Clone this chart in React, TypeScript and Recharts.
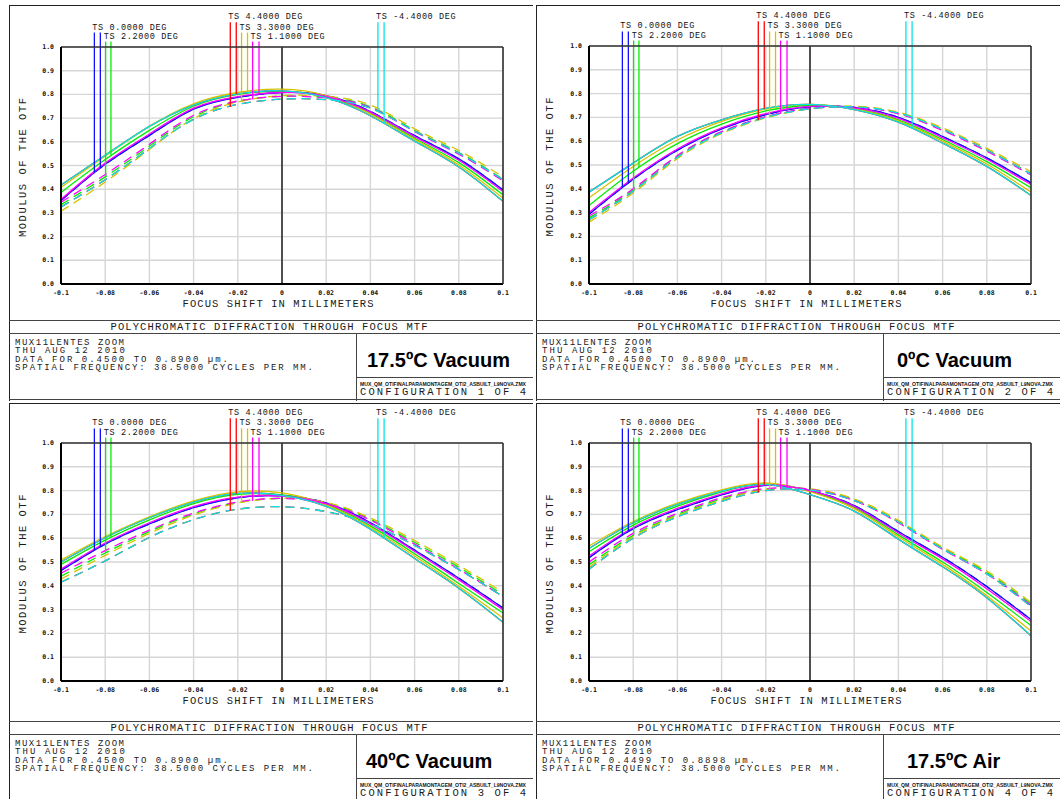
import React from "react";
import { CartesianGrid, Line, LineChart, ReferenceLine, XAxis, YAxis } from "recharts";

const focusShift = [-0.1, -0.08, -0.06, -0.04, -0.02, 0, 0.02, 0.04, 0.06, 0.08, 0.1];
const xTickLabels = ["-0.1", "-0.08", "-0.06", "-0.04", "-0.02", "0", "0.02", "0.04", "0.06", "0.08", "0.1"];
const yTicks = [0, 0.1, 0.2, 0.3, 0.4, 0.5, 0.6, 0.7, 0.8, 0.9, 1.0];
const yTickLabels = ["0.0", "0.1", "0.2", "0.3", "0.4", "0.5", "0.6", "0.7", "0.8", "0.9", "1.0"];

// field order as zemax draws it
const fieldNames = ["TS 0.0000 DEG", "TS 2.2000 DEG", "TS 4.4000 DEG", "TS 3.3000 DEG", "TS 1.1000 DEG", "TS -4.4000 DEG"];
const fieldColors = ["#1010ff", "#00ee00", "#ff0000", "#d4c400", "#ff00ff", "#00e6e6"];
// legend drop lines (two per field, in mm) and where they start (MTF units, above the frame)
const markerX = [
  [-0.0849, -0.0822],
  [-0.0798, -0.0774],
  [-0.0234, -0.0207],
  [-0.0183, -0.0156],
  [-0.0133, -0.0104],
  [0.0434, 0.0462],
];
const markerTop = [1.061, 1.023, 1.104, 1.061, 1.023, 1.104];

// ---- configuration 1 : 17.5C vacuum
const c1Blue = [0.352, 0.505, 0.627, 0.738, 0.788, 0.808, 0.795, 0.728, 0.626, 0.528, 0.397];
const c1GreenT = [0.386, 0.525, 0.648, 0.75, 0.8, 0.813, 0.79, 0.72, 0.615, 0.512, 0.376];
const c1GreenS = [0.335, 0.452, 0.582, 0.706, 0.77, 0.792, 0.787, 0.748, 0.648, 0.555, 0.442];
const c1YellowT = [0.408, 0.54, 0.665, 0.76, 0.808, 0.822, 0.795, 0.718, 0.61, 0.502, 0.362];
const c1YellowS = [0.307, 0.43, 0.568, 0.698, 0.768, 0.795, 0.792, 0.755, 0.655, 0.563, 0.452];
const c1MagentaT = [0.357, 0.51, 0.633, 0.742, 0.791, 0.808, 0.792, 0.725, 0.622, 0.522, 0.39];
const c1MagentaS = [0.345, 0.462, 0.59, 0.712, 0.772, 0.792, 0.785, 0.745, 0.643, 0.548, 0.435];
const c1CyanT = [0.418, 0.543, 0.665, 0.755, 0.802, 0.815, 0.786, 0.71, 0.603, 0.494, 0.349];
const c1CyanS = [0.325, 0.44, 0.572, 0.695, 0.758, 0.78, 0.778, 0.742, 0.645, 0.552, 0.44];

// ---- configuration 2 : 0C vacuum
const c2Blue = [0.293, 0.44, 0.562, 0.652, 0.712, 0.745, 0.742, 0.7, 0.62, 0.53, 0.425];
const c2GreenT = [0.33, 0.474, 0.59, 0.672, 0.727, 0.75, 0.737, 0.69, 0.607, 0.514, 0.404];
const c2GreenS = [0.278, 0.395, 0.536, 0.638, 0.702, 0.738, 0.745, 0.718, 0.65, 0.563, 0.463];
const c2YellowT = [0.362, 0.494, 0.605, 0.683, 0.735, 0.755, 0.736, 0.685, 0.6, 0.504, 0.386];
const c2YellowS = [0.26, 0.382, 0.527, 0.632, 0.698, 0.737, 0.747, 0.722, 0.656, 0.57, 0.472];
const c2MagentaT = [0.3, 0.445, 0.567, 0.656, 0.716, 0.746, 0.74, 0.696, 0.615, 0.524, 0.418];
const c2MagentaS = [0.286, 0.4, 0.54, 0.64, 0.703, 0.738, 0.744, 0.715, 0.645, 0.558, 0.458];
const c2CyanT = [0.386, 0.508, 0.62, 0.69, 0.738, 0.755, 0.733, 0.68, 0.592, 0.494, 0.372];
const c2CyanS = [0.27, 0.39, 0.532, 0.635, 0.7, 0.736, 0.744, 0.718, 0.65, 0.563, 0.462];

// ---- configuration 3 : 40C vacuum
const c3Blue = [0.464, 0.575, 0.66, 0.728, 0.77, 0.778, 0.748, 0.665, 0.55, 0.432, 0.307];
const c3GreenT = [0.49, 0.592, 0.677, 0.745, 0.784, 0.782, 0.742, 0.652, 0.535, 0.41, 0.286];
const c3GreenS = [0.44, 0.538, 0.628, 0.702, 0.75, 0.768, 0.748, 0.68, 0.582, 0.478, 0.362];
const c3YellowT = [0.508, 0.607, 0.69, 0.757, 0.795, 0.79, 0.74, 0.645, 0.525, 0.398, 0.265];
const c3YellowS = [0.428, 0.528, 0.62, 0.697, 0.748, 0.768, 0.75, 0.685, 0.59, 0.486, 0.372];
const c3MagentaT = [0.47, 0.58, 0.665, 0.733, 0.773, 0.777, 0.745, 0.66, 0.545, 0.425, 0.3];
const c3MagentaS = [0.453, 0.548, 0.634, 0.706, 0.752, 0.767, 0.745, 0.676, 0.575, 0.47, 0.355];
const c3CyanT = [0.5, 0.602, 0.686, 0.752, 0.788, 0.78, 0.734, 0.638, 0.515, 0.39, 0.247];
const c3CyanS = [0.415, 0.505, 0.603, 0.678, 0.722, 0.732, 0.712, 0.66, 0.57, 0.468, 0.355];

// ---- configuration 4 : 17.5C air
const c4Blue = [0.518, 0.64, 0.72, 0.782, 0.822, 0.8, 0.737, 0.628, 0.52, 0.397, 0.258];
const c4GreenT = [0.543, 0.655, 0.735, 0.795, 0.828, 0.798, 0.729, 0.614, 0.5, 0.372, 0.233];
const c4GreenS = [0.488, 0.612, 0.7, 0.765, 0.806, 0.806, 0.762, 0.67, 0.558, 0.456, 0.323];
const c4YellowT = [0.567, 0.67, 0.747, 0.803, 0.832, 0.796, 0.724, 0.606, 0.49, 0.358, 0.21];
const c4YellowS = [0.478, 0.606, 0.695, 0.76, 0.805, 0.807, 0.765, 0.675, 0.563, 0.462, 0.33];
const c4MagentaT = [0.525, 0.645, 0.725, 0.786, 0.824, 0.8, 0.734, 0.622, 0.513, 0.388, 0.25];
const c4MagentaS = [0.5, 0.62, 0.705, 0.77, 0.808, 0.805, 0.758, 0.665, 0.553, 0.45, 0.318];
const c4CyanT = [0.557, 0.665, 0.742, 0.798, 0.826, 0.783, 0.714, 0.596, 0.48, 0.35, 0.19];
const c4CyanS = [0.47, 0.6, 0.69, 0.755, 0.8, 0.802, 0.758, 0.668, 0.555, 0.45, 0.313];

type Curve = { t: number[]; s: number[] };

// on axis T == S; +4.4 and -4.4 deg are the same curves (red sits under cyan)
const config1: Curve[] = [
  { t: c1Blue, s: c1Blue },
  { t: c1GreenT, s: c1GreenS },
  { t: c1CyanT, s: c1CyanS },
  { t: c1YellowT, s: c1YellowS },
  { t: c1MagentaT, s: c1MagentaS },
  { t: c1CyanT, s: c1CyanS },
];
const config2: Curve[] = [
  { t: c2Blue, s: c2Blue },
  { t: c2GreenT, s: c2GreenS },
  { t: c2CyanT, s: c2CyanS },
  { t: c2YellowT, s: c2YellowS },
  { t: c2MagentaT, s: c2MagentaS },
  { t: c2CyanT, s: c2CyanS },
];
const config3: Curve[] = [
  { t: c3Blue, s: c3Blue },
  { t: c3GreenT, s: c3GreenS },
  { t: c3CyanT, s: c3CyanS },
  { t: c3YellowT, s: c3YellowS },
  { t: c3MagentaT, s: c3MagentaS },
  { t: c3CyanT, s: c3CyanS },
];
const config4: Curve[] = [
  { t: c4Blue, s: c4Blue },
  { t: c4GreenT, s: c4GreenS },
  { t: c4CyanT, s: c4CyanS },
  { t: c4YellowT, s: c4YellowS },
  { t: c4MagentaT, s: c4MagentaS },
  { t: c4CyanT, s: c4CyanS },
];

const panels = [
  { left: 6, top: 2, height: 399, topLine: 3, plotLeft: 55, plotTop: 45, plotBottom: 282, infoTop: 318, label: "17.5ºC Vacuum", labelX: 361, wave: "DATA FOR 0.4500 TO 0.8900 µm.", config: "CONFIGURATION 1 OF 4", curves: config1 },
  { left: 533, top: 2, height: 399, topLine: 3, plotLeft: 56, plotTop: 44, plotBottom: 282, infoTop: 318, label: "0ºC Vacuum", labelX: 364, wave: "DATA FOR 0.4500 TO 0.8900 µm.", config: "CONFIGURATION 2 OF 4", curves: config2 },
  { left: 6, top: 401, height: 398, topLine: 2, plotLeft: 55, plotTop: 42, plotBottom: 280, infoTop: 320, label: "40ºC Vacuum", labelX: 360, wave: "DATA FOR 0.4500 TO 0.8900 µm.", config: "CONFIGURATION 3 OF 4", curves: config3 },
  { left: 533, top: 401, height: 398, topLine: 2, plotLeft: 56, plotTop: 42, plotBottom: 280, infoTop: 320, label: "17.5ºC Air", labelX: 374, wave: "DATA FOR 0.4499 TO 0.8898 µm.", config: "CONFIGURATION 4 OF 4", curves: config4 },
];

const MONO = "'Liberation Mono', 'DejaVu Sans Mono', monospace";
const TICKFONT = "'DejaVu Sans Mono', monospace";

function valueAt(ys: number[], x: number) {
  for (let i = 0; i < focusShift.length - 1; i++) {
    const x0 = focusShift[i];
    const x1 = focusShift[i + 1];
    if (x >= x0 && x <= x1) return ys[i] + ((ys[i + 1] - ys[i]) * (x - x0)) / (x1 - x0);
  }
  return ys[ys.length - 1];
}

function buildRows(curves: Curve[]) {
  return focusShift.map((x, i) => {
    const row: Record<string, number> = { x };
    curves.forEach((c, f) => {
      row[`t${f}`] = c.t[i];
      row[`s${f}`] = c.s[i];
    });
    return row;
  });
}

const XTick = (props: any) => {
  const { x, y, payload } = props;
  const i = focusShift.findIndex((v) => Math.abs(v - payload.value) < 1e-9);
  return (
    <text x={x} y={y} textAnchor="middle" dominantBaseline="central" fontSize={6.5} fontWeight={700} fontFamily={TICKFONT} fill="#111">
      {xTickLabels[i]}
    </text>
  );
};

const YTick = (props: any) => {
  const { x, y, payload } = props;
  const i = yTicks.findIndex((v) => Math.abs(v - payload.value) < 1e-9);
  return (
    <text x={x} y={y} textAnchor="end" dominantBaseline="central" fontSize={6.5} fontWeight={700} fontFamily={TICKFONT} fill="#111">
      {yTickLabels[i]}
    </text>
  );
};

const MarkerLabel = (props: any) => {
  const vb = props.viewBox || { x: 0, y: 0 };
  return (
    <text x={vb.x - 2} y={vb.y - 3} fontSize={8.5} fontFamily={MONO} fill="#111" textLength={props.text.length * 5.7} lengthAdjust="spacing">
      {props.text}
    </text>
  );
};

function Panel({ p }: { p: (typeof panels)[number] }) {
  const rows = buildRows(p.curves);
  const plotH = p.plotBottom - p.plotTop;
  const W = 527;
  const it = p.infoTop;
  const txt = { fontFamily: MONO, fontSize: 10.5, fill: "#1a1a1a" } as const;
  const small = { fontFamily: MONO, fontSize: 9, fill: "#1a1a1a" } as const;
  return (
    <div style={{ position: "absolute", left: p.left, top: p.top, width: W, height: p.height, overflow: "hidden", background: "#fff" }}>
      <svg width={W} height={p.height} style={{ position: "absolute", left: 0, top: 0 }}>
        <line x1={3.5} y1={p.topLine} x2={3.5} y2={p.height} stroke="#222" />
        <line x1={3} y1={p.topLine + 0.5} x2={W} y2={p.topLine + 0.5} stroke="#222" />
        <line x1={3} y1={it + 0.5} x2={W} y2={it + 0.5} stroke="#444" />
        <line x1={3} y1={it + 13.5} x2={W} y2={it + 13.5} stroke="#444" />
        <line x1={350.5} y1={it + 13} x2={350.5} y2={p.height} stroke="#444" />
        <line x1={350} y1={it + 57.5} x2={W} y2={it + 57.5} stroke="#444" />
        <line x1={3} y1={it + 79.5} x2={W} y2={it + 79.5} stroke="#444" />
        <text {...txt} x={263} y={it + 7} textAnchor="middle" dominantBaseline="central" textLength={317} lengthAdjust="spacing">
          POLYCHROMATIC DIFFRACTION THROUGH FOCUS MTF
        </text>
        <text {...small} x={9} y={it + 23} dominantBaseline="central" textLength={109} lengthAdjust="spacing">MUX11LENTES ZOOM</text>
        <text {...small} x={9} y={it + 31.4} dominantBaseline="central" textLength={110} lengthAdjust="spacing">THU AUG 12 2010</text>
        <text {...small} x={9} y={it + 39.8} dominantBaseline="central" textLength={213} lengthAdjust="spacing">{p.wave}</text>
        <text {...small} x={9} y={it + 48.2} dominantBaseline="central" textLength={298} lengthAdjust="spacing">
          SPATIAL FREQUENCY: 38.5000 CYCLES PER MM.
        </text>
        <text x={p.labelX} y={it + 47} fontFamily="'Liberation Sans', Arial, sans-serif" fontWeight={700} fontSize={20} fill="#000">
          {p.label}
        </text>
        <text x={354} y={it + 63.5} dominantBaseline="central" fontFamily="'Liberation Sans Narrow', 'Liberation Sans', sans-serif" fontWeight={700} fontSize={5.5} fill="#111" textLength={166} lengthAdjust="spacingAndGlyphs">
          MUX_QM_OTIFINALPARAMONTAGEM_OTI2_ASBUILT_L9NOVA.ZMX
        </text>
        <text {...txt} x={354} y={it + 72} dominantBaseline="central" textLength={166} lengthAdjust="spacing">{p.config}</text>
        <text {...txt} x={p.plotLeft + 217} y={p.plotBottom + 19.5} textAnchor="middle" dominantBaseline="central" textLength={191} lengthAdjust="spacing">
          FOCUS SHIFT IN MILLIMETERS
        </text>
        <text
          {...txt}
          x={0}
          y={0}
          transform={`translate(16.5, ${p.plotTop + plotH / 2 + 2}) rotate(-90)`}
          textAnchor="middle"
          dominantBaseline="central"
          textLength={139}
          lengthAdjust="spacing"
        >
          MODULUS OF THE OTF
        </text>
      </svg>
      <div style={{ position: "absolute", left: p.plotLeft - 52, top: p.plotTop - 42 }}>
        <LineChart width={52 + 442 + 20} height={42 + plotH + 21} data={rows} margin={{ top: 42, right: 20, bottom: 0, left: 0 }}>
          <CartesianGrid xAxisId="b" yAxisId="l" stroke="#d6d6d6" strokeWidth={1.4} />
          <XAxis xAxisId="b" dataKey="x" type="number" domain={[-0.1, 0.1]} ticks={focusShift} interval={0} allowDataOverflow height={21} axisLine={{ stroke: "#000", strokeWidth: 2 }} tickLine={false} tickSize={0} tickMargin={9} tick={<XTick />} />
          <XAxis xAxisId="bi" type="number" domain={[-0.1, 0.1]} ticks={focusShift} interval={0} allowDataOverflow orientation="bottom" mirror axisLine={false} tick={false} tickLine={{ stroke: "#000" }} tickSize={4} />
          <XAxis xAxisId="t" type="number" domain={[-0.1, 0.1]} ticks={focusShift} interval={0} allowDataOverflow orientation="top" mirror axisLine={{ stroke: "#333", strokeWidth: 1.6 }} tick={false} tickLine={{ stroke: "#000" }} tickSize={4} />
          <YAxis yAxisId="l" type="number" domain={[0, 1]} ticks={yTicks} interval={0} allowDataOverflow width={52} axisLine={{ stroke: "#000", strokeWidth: 2 }} tickLine={false} tickSize={0} tickMargin={7} tick={<YTick />} />
          <YAxis yAxisId="li" type="number" domain={[0, 1]} ticks={yTicks} interval={0} allowDataOverflow orientation="left" mirror axisLine={false} tick={false} tickLine={{ stroke: "#000" }} tickSize={4} />
          <YAxis yAxisId="r" type="number" domain={[0, 1]} ticks={yTicks} interval={0} allowDataOverflow orientation="right" mirror axisLine={{ stroke: "#333", strokeWidth: 1.6 }} tick={false} tickLine={{ stroke: "#000" }} tickSize={4} />
          <ReferenceLine xAxisId="b" yAxisId="l" x={0} stroke="#000" strokeWidth={1.3} />
          {p.curves.map((c, f) => [
            <Line key={`t${f}`} xAxisId="b" yAxisId="l" type="natural" dataKey={`t${f}`} stroke={fieldColors[f]} strokeWidth={1.3} dot={false} isAnimationActive={false} />,
            <Line key={`s${f}`} xAxisId="b" yAxisId="l" type="natural" dataKey={`s${f}`} stroke={fieldColors[f]} strokeWidth={1.3} strokeDasharray="9 6" dot={false} isAnimationActive={false} />,
          ])}
          {p.curves.map((c, f) => [
            <ReferenceLine
              key={`ma${f}`}
              xAxisId="b"
              yAxisId="l"
              ifOverflow="visible"
              segment={[
                { x: markerX[f][0], y: markerTop[f] },
                { x: markerX[f][0], y: valueAt(c.s, markerX[f][0]) },
              ]}
              stroke={fieldColors[f]}
              strokeWidth={1.3}
              label={<MarkerLabel text={fieldNames[f]} />}
            />,
            <ReferenceLine
              key={`mb${f}`}
              xAxisId="b"
              yAxisId="l"
              ifOverflow="visible"
              segment={[
                { x: markerX[f][1], y: markerTop[f] },
                { x: markerX[f][1], y: valueAt(c.t, markerX[f][1]) },
              ]}
              stroke={fieldColors[f]}
              strokeWidth={1.3}
            />,
          ])}
        </LineChart>
      </div>
    </div>
  );
}

export default function App() {
  return (
    <div style={{ position: "absolute", left: 0, top: 0, width: 1060, height: 799, overflow: "hidden", background: "#fff" }}>
      {panels.map((p, i) => (
        <Panel key={i} p={p} />
      ))}
    </div>
  );
}
